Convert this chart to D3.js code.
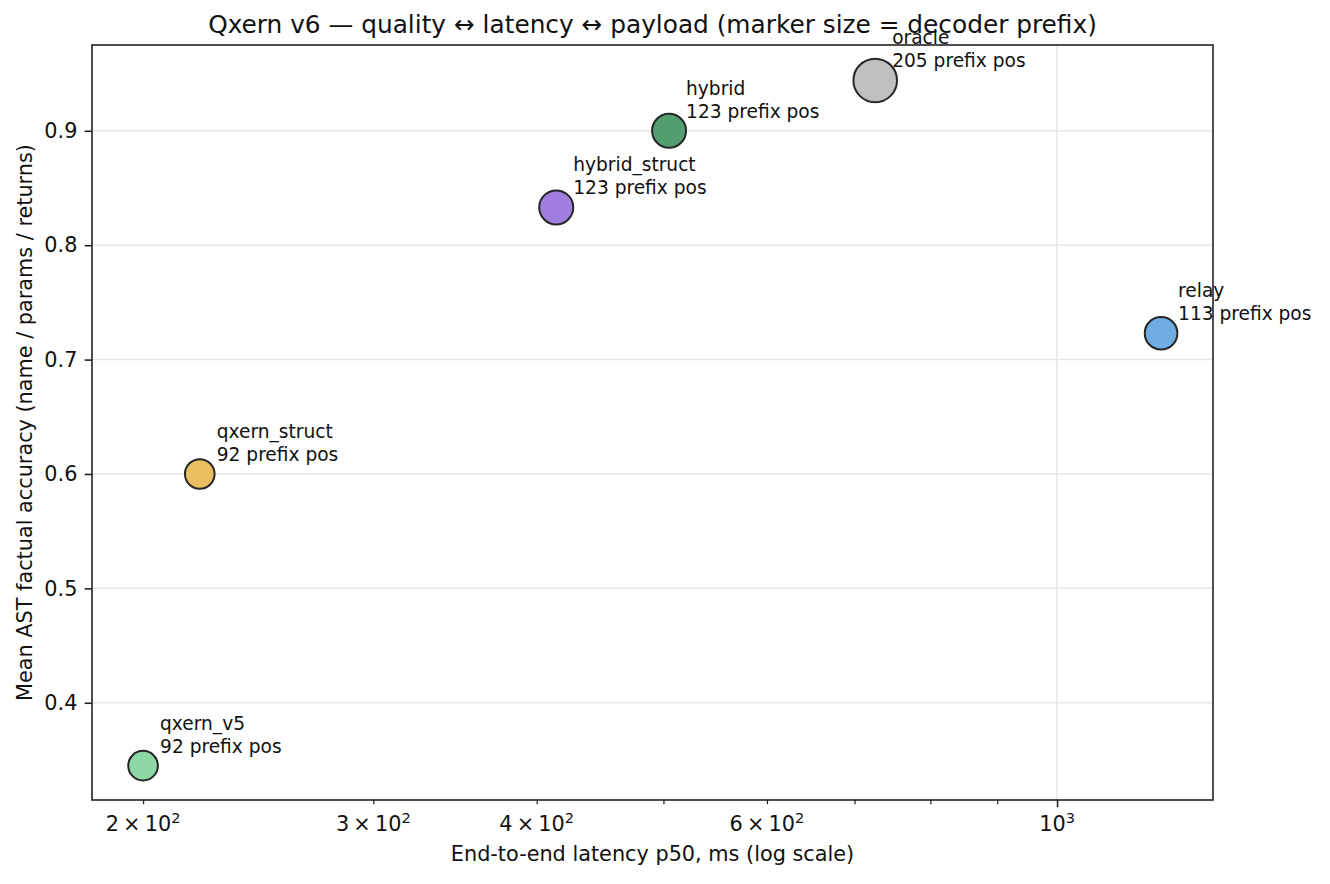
<!DOCTYPE html>
<html><head><meta charset="utf-8">
<script src="https://cdn.jsdelivr.net/npm/d3@7"></script>
<style>body{margin:0;background:#fff;} svg{font-family:"DejaVu Sans",sans-serif;}</style>
</head><body>
<svg id="c" width="1330" height="884"></svg>
<script>
const names = ["qxern_v5","qxern_struct","hybrid_struct","hybrid","oracle","relay"];
const latency = [200, 221, 414, 505, 726, 1201];
const accuracy = [0.345, 0.600, 0.833, 0.900, 0.944, 0.723];
const prefix = [92, 92, 123, 123, 205, 113];
const colors = ["#8ed8a6","#e9bf62","#a07fe0","#529e71","#bfbfbf","#6eaee4"];
const yTicks = [0.4,0.5,0.6,0.7,0.8,0.9];
const xMajor = [1000];
const xMinor = [200,300,400,500,600,700,800,900];
const xLabeled = [[200,"2"],[300,"3"],[400,"4"],[600,"6"]];

const svg = d3.select("#c");
const L=92, R=1213, T=45, B=800;
const x = d3.scaleLog().domain([182.8,1316]).range([L,R]);
const y = d3.scaleLinear().domain([0.315,0.975]).range([B,T]);
const area = d3.scaleLinear().domain([92,205]).range([250,520]);
const r = p => Math.sqrt(area(p)) - 1;

// grid
svg.append("g").selectAll("line").data(yTicks).join("line")
  .attr("x1",L).attr("x2",R).attr("y1",d=>y(d)).attr("y2",d=>y(d))
  .attr("stroke","#e6e6e6").attr("stroke-width",1.5);
svg.append("g").selectAll("line").data(xMajor).join("line")
  .attr("y1",T).attr("y2",B).attr("x1",d=>x(d)).attr("x2",d=>x(d))
  .attr("stroke","#e6e6e6").attr("stroke-width",1.5);

// axes
const yAxis = d3.axisLeft(y).tickValues(yTicks).tickFormat(d3.format(".1f")).tickSize(7.3).tickPadding(7.3);
const gy = svg.append("g").attr("transform",`translate(${L},0)`).call(yAxis);
gy.select(".domain").remove();
gy.selectAll("text").attr("font-size",20.8).attr("font-family","DejaVu Sans").attr("fill","#111");
gy.selectAll("line").attr("stroke","#222").attr("stroke-width",1.6);

const xAxisMinor = d3.axisBottom(x).tickValues(xMinor).tickFormat("").tickSize(4.2);
const gxm = svg.append("g").attr("transform",`translate(0,${B})`).call(xAxisMinor);
gxm.select(".domain").remove(); gxm.selectAll("line").attr("stroke","#222").attr("stroke-width",1.25);
const xAxisMajor = d3.axisBottom(x).tickValues(xMajor).tickFormat("").tickSize(7.3);
const gxM = svg.append("g").attr("transform",`translate(0,${B})`).call(xAxisMajor);
gxM.select(".domain").remove(); gxM.selectAll("line").attr("stroke","#222").attr("stroke-width",1.6);

// x tick labels with superscripts
const lab = svg.append("g").attr("font-size",20.8).attr("fill","#111");
xLabeled.forEach(([v,m])=>{
  const t = lab.append("text").attr("x",x(v)).attr("y",B+31).attr("text-anchor","middle");
  t.append("tspan").text(m+"\u2009\u00d7\u200910");
  t.append("tspan").attr("font-size",14.6).attr("dy",-8).text("2");
});
xMajor.forEach(v=>{
  const t = lab.append("text").attr("x",x(v)).attr("y",B+31).attr("text-anchor","middle");
  t.append("tspan").text("10");
  t.append("tspan").attr("font-size",14.6).attr("dy",-8).text("3");
});

// frame
svg.append("rect").attr("x",L).attr("y",T).attr("width",R-L).attr("height",B-T)
  .attr("fill","none").attr("stroke","#222").attr("stroke-width",1.6);

// points
const idx = d3.range(names.length);
svg.append("g").selectAll("circle").data(idx).join("circle")
  .attr("cx",i=>x(latency[i])).attr("cy",i=>y(accuracy[i])).attr("r",i=>r(prefix[i]))
  .attr("fill",i=>colors[i]).attr("stroke","#262626").attr("stroke-width",2);

// annotations
const ann = svg.append("g").attr("font-size",18.6).attr("fill","#111");
idx.forEach(i=>{
  const px = x(latency[i])+17, py = y(accuracy[i]);
  ann.append("text").attr("x",px).attr("y",py-36).text(names[i]);
  ann.append("text").attr("x",px).attr("y",py-13).text(prefix[i]+" prefix pos");
});

// titles
svg.append("text").attr("x",(L+R)/2).attr("y",33).attr("text-anchor","middle")
  .attr("font-size",24.8).attr("fill","#111")
  .text("Qxern v6 \u2014 quality \u2194 latency \u2194 payload (marker size = decoder prefix)");
svg.append("text").attr("x",(L+R)/2).attr("y",861).attr("text-anchor","middle")
  .attr("font-size",20.8).attr("fill","#111").text("End-to-end latency p50, ms (log scale)");
svg.append("text").attr("transform",`translate(32,${(T+B)/2}) rotate(-90)`).attr("text-anchor","middle")
  .attr("font-size",20.8).attr("fill","#111").text("Mean AST factual accuracy (name / params / returns)");
</script>
</body></html>
